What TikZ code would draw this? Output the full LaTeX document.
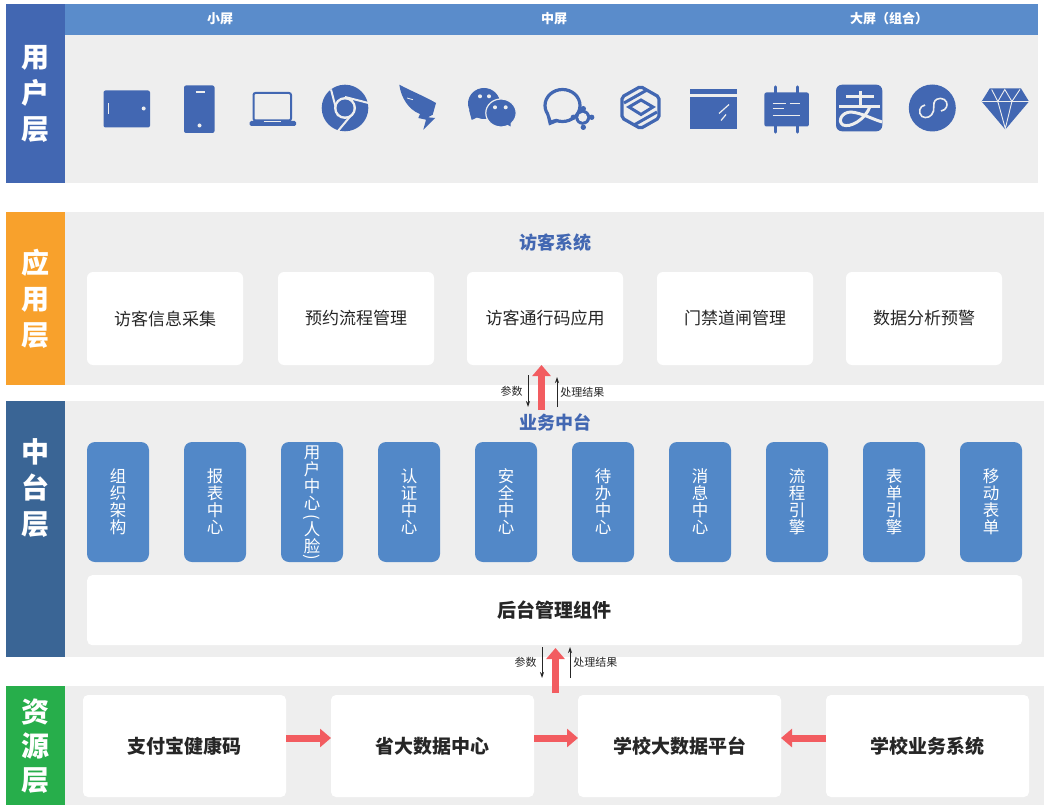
\documentclass[tikz,border=0pt]{standalone}
\usepackage{fontspec}
\setmainfont{Noto Sans CJK SC}
\usepackage{xcolor}
\usetikzlibrary{arrows.meta,positioning}
\definecolor{layerblue}{HTML}{4267B2}
\definecolor{layerorange}{HTML}{F8A12C}
\definecolor{layersteel}{HTML}{3A6595}
\definecolor{layergreen}{HTML}{27AE4B}
\definecolor{headblue}{HTML}{5A8CCB}
\definecolor{pillblue}{HTML}{5288C8}
\definecolor{panelgray}{HTML}{EEEEEE}
\definecolor{arrowred}{HTML}{F25C60}
\definecolor{inkdark}{HTML}{262626}
\newcommand{\overparen}[2]{\makebox[0pt][l]{\makebox[16.5pt]{\raisebox{#1}[0pt][0pt]{\rotatebox[origin=c]{-90}{#2}}}}}
\tikzset{
  layerBar/.style={anchor=north west, minimum width=59pt, inner sep=0pt, align=center, text=white, font=\fontsize{28}{36}\selectfont\bfseries},
  panelBox/.style={anchor=north west, fill=panelgray, minimum width=979pt, inner sep=0pt},
  headLabel/.style={text=white, inner sep=0pt, font=\fontsize{13}{15}\selectfont\bfseries},
  blueTitle/.style={text=layerblue, inner sep=0pt, font=\fontsize{18}{20}\selectfont\bfseries},
  appCard/.style={fill=white, rounded corners=6pt, outer sep=0pt, minimum width=156pt, minimum height=93pt, inner sep=0pt, text=inkdark, font=\fontsize{17}{20}\selectfont},
  compPill/.style={fill=pillblue, rounded corners=8pt, outer sep=0pt, minimum width=62pt, minimum height=120pt, inner sep=0pt, align=center, text=white, font=\fontsize{16.5}{17}\selectfont},
  resCard/.style={fill=white, rounded corners=5pt, outer sep=0pt, minimum width=203pt, minimum height=102pt, inner sep=0pt, text=inkdark, font=\fontsize{19}{22}\selectfont\bfseries},
  redArrow/.style={-{Triangle[length=11pt,width=18pt]}, line width=7pt, draw=arrowred},
  thinArrow/.style={-{Stealth[length=6pt,width=4pt]}, line width=0.8pt, draw=inkdark},
  thinLabel/.style={inner sep=3pt, text=inkdark, font=\fontsize{11}{13}\selectfont},
  iconFill/.style={fill=layerblue, draw=none},
  iconLine/.style={draw=layerblue, fill=none, line width=3.2pt},
  iconCut/.style={draw=panelgray, fill=none, line width=1.2pt}
}
\begin{document}
\begin{tikzpicture}[x=1pt,y=-1pt]
  \useasboundingbox (0,0) rectangle (1048,810);

  \node[panelBox, minimum width=973pt, minimum height=148pt] (userpanel) at (65,35) {};
  \node[anchor=north west, fill=headblue, minimum width=973pt, minimum height=31pt, inner sep=0pt] (screenhead) at (65,4) {};
  \node[panelBox, minimum height=173pt] (apppanel) at (65,212) {};
  \node[panelBox, minimum height=256pt] (midpanel) at (65,401) {};
  \node[panelBox, minimum height=119pt] (respanel) at (65,686) {};

  \node[layerBar, fill=layerblue, minimum height=179pt] (userbar) at (6,4) {用\\户\\层};
  \node[layerBar, fill=layerorange, minimum height=173pt] (appbar) at (6,212) {应\\用\\层};
  \node[layerBar, fill=layersteel, minimum height=256pt] (midbar) at (6,401) {};
  \node[layerBar, anchor=center] (midname) at (35.5,488) {中\\台\\层};
  \node[layerBar, fill=layergreen, minimum height=119pt, font=\fontsize{28}{34}\selectfont\bfseries] (resbar) at (6,686) {资\\源\\层};

  \node[headLabel] (small) at (220,19) {小屏};
  \node[headLabel] (medium) at (554,19) {中屏};
  \node[headLabel] (large) at (889,19) {大屏（组合）};

  \fill[iconFill, rounded corners=2pt] (103.5,90.5) rectangle (150,127.5);
  \draw[iconCut] (108.5,103.5) -- (108.5,114.5);
  \fill[panelgray] (143.7,108.5) circle (2);

  \fill[iconFill, rounded corners=2pt] (184,85.5) rectangle (214.5,133);
  \draw[iconCut] (195.5,92) -- (204.5,92);
  \fill[panelgray] (199.5,125.5) circle (2);

  \draw[iconLine, line width=2pt, rounded corners=2pt] (253.5,93) rectangle (291,120.5);
  \fill[iconFill, rounded corners=1.5pt] (249.5,121) rectangle (296,126);
  \draw[iconCut, line width=0.8pt] (263.5,121.5) -- (281,121.5);

  \fill[iconFill] (345,108) circle (23.3);
  \draw[iconCut, line width=2pt] (345,97) -- (368.5,103);
  \draw[iconCut, line width=2pt] (331,89.5) -- (338,116);
  \draw[iconCut, line width=2pt] (353,113) -- (338,131);
  \fill[panelgray] (345,108) circle (11);
  \fill[iconFill] (345,108) circle (8.5);

  \fill[iconFill] (399.3,84.7) .. controls (411,91) and (424,96) .. (436,103) -- (432.7,114.7) -- (428,117.3) -- (435,118) -- (423.3,129.7) -- (426,119.7) -- (418.3,118) -- (420,114) .. controls (409,110) and (401,98) .. (399.3,84.7) -- cycle;
  \draw[iconCut, line width=0.8pt] (407,98) -- (413,99.7);

  \fill[iconFill] (484,103.5) ellipse (16 and 15.5);
  \fill[iconFill] (469,110) -- (471.7,120) -- (480,116) -- cycle;
  \fill[iconFill, draw=panelgray, line width=1.2pt] (501,113) ellipse (15.2 and 14);
  \fill[iconFill] (503,122) -- (510.5,126.5) -- (511,116) -- cycle;
  \fill[panelgray] (480,96.3) circle (2) (489,96.3) circle (2) (495,107.3) circle (2) (505.7,107.3) circle (2);

  \draw[iconLine] (562.5,105.5) ellipse (17.5 and 16);
  \fill[iconFill] (546,113) -- (549,125.5) -- (560,121) -- cycle;
  \fill[panelgray] (549,113) -- (551.5,120) -- (558,118) -- cycle;
  \fill[iconFill] (582.7,117.3) circle (7.5);
  \fill[iconFill] (583.3,108.7) circle (2.7) (591.7,117.3) circle (2.7) (583.3,127.3) circle (2.7) (573.3,117.3) circle (2.7);
  \fill[panelgray] (582.7,117.3) circle (4.5);

  \draw[iconLine, rounded corners=2pt] (640.5,86.5) -- (659,97) -- (659,118) -- (640.5,128.5) -- (622,118) -- (622,97) -- cycle;
  \draw[iconLine, line width=3pt] (641,100) -- (653,107) -- (641,114.5) -- (629,107) -- cycle;
  \draw[iconLine, line width=3pt] (624,103) -- (647,90);
  \draw[iconLine, line width=3pt] (634,125) -- (657,112);

  \fill[iconFill] (690,89.5) rectangle (737,94.5);
  \fill[iconFill] (690,97.5) rectangle (737,129);
  \draw[iconCut] (729,104.5) -- (719,113.5);
  \draw[iconCut] (726,114.5) -- (721,120.5);

  \fill[iconFill, rounded corners=2pt] (764.4,92.5) rectangle (808.9,126.5);
  \draw[iconLine, line cap=round] (775.6,87) -- (775.6,132);
  \draw[iconLine, line cap=round] (797.8,87) -- (797.8,132);
  \draw[iconCut] (772.5,103.5) -- (785.7,103.5);
  \draw[iconCut] (789.7,103.5) -- (799.8,103.5);
  \draw[iconCut] (772.5,108.5) -- (783.7,108.5);
  \draw[iconCut] (772.5,115.5) -- (799.8,115.5);

  \fill[iconFill, rounded corners=6pt] (836,84.7) rectangle (882.3,131.3);
  \draw[iconCut, line width=3pt] (845.7,96.3) -- (874.3,96.3);
  \draw[iconCut, line width=3pt] (839,106.3) -- (880,106.3);
  \draw[iconCut, line width=3pt] (860,90.7) -- (860,106.3);
  \draw[iconCut, line width=3pt] (870,106.5) .. controls (865,120) and (850,128) .. (843,125) .. controls (837,121) and (842,112) .. (851,112) .. controls (862,113) and (872,119) .. (882,122);

  \fill[iconFill] (932.3,108) circle (23.5);
  \draw[iconCut, line width=1.6pt] (941,111) .. controls (946,110) and (948,106) .. (946.5,102) .. controls (945,98) and (936,96) .. (934,103) -- (933.5,111) .. controls (932,117) and (926,119) .. (922,116.5) .. controls (918,113) and (919,106) .. (925,105);

  \fill[iconFill] (989.7,88.5) -- (1021,88.5) -- (1029,101.5) -- (1005.3,129.5) -- (981.6,101.5) -- cycle;
  \draw[iconCut, line width=0.9pt] (981.6,101.5) -- (1029,101.5);
  \draw[iconCut, line width=0.9pt] (991.7,89.5) -- (997.8,101.5) -- (1004.8,89.5) -- (1011.9,101.5) -- (1019.9,89.5);
  \draw[iconCut, line width=0.9pt] (997.8,101.5) -- (1005.3,128.5) -- (1011.9,101.5);

  \node[blueTitle] (visitsys) at (555,243) {访客系统};
  \node[appCard, anchor=north west] (collect) at (87,272) {访客信息采集};
  \node[appCard, right=35pt of collect] (booking) {预约流程管理};
  \node[appCard, right=33pt of booking] (passcode) {访客通行码应用};
  \node[appCard, right=34pt of passcode] (gate) {门禁道闸管理};
  \node[appCard, right=33pt of gate] (warning) {数据分析预警};

  \node[blueTitle] (bizmid) at (555,422) {业务中台};
  \node[compPill, anchor=north west] (org) at (87,442) {组\\织\\架\\构};
  \node[compPill, right=35pt of org] (report) {报\\表\\中\\心};
  \node[compPill, right=35pt of report] (person) {用\\户\\中\\心\\[9pt]\overparen{13pt}{(}人\\\overparen{-10pt}{)}脸\rule[-6.5pt]{0pt}{0pt}};
  \node[compPill, right=35pt of person] (auth) {认\\证\\中\\心};
  \node[compPill, right=35pt of auth] (safety) {安\\全\\中\\心};
  \node[compPill, right=35pt of safety] (todo) {待\\办\\中\\心};
  \node[compPill, right=35pt of todo] (message) {消\\息\\中\\心};
  \node[compPill, right=35pt of message] (flow) {流\\程\\引\\擎};
  \node[compPill, right=35pt of flow] (form) {表\\单\\引\\擎};
  \node[compPill, right=35pt of form] (mobile) {移\\动\\表\\单};
  \node[fill=white, rounded corners=5pt, anchor=north west, minimum width=935pt, minimum height=70pt, inner sep=0pt, text=inkdark, font=\fontsize{19}{22}\selectfont\bfseries] (backend) at (87,575) {后台管理组件};

  \node[resCard, anchor=north west] (healthcode) at (83,695) {支付宝健康码};
  \node[resCard, right=45pt of healthcode] (province) {省大数据中心};
  \node[resCard, right=44pt of province] (platform) {学校大数据平台};
  \node[resCard, right=45pt of platform] (bizsys) {学校业务系统};

  \coordinate (upperfoot) at (541.5,410);
  \coordinate (paramtop) at (528,375);
  \coordinate (parambot) at (528,407);
  \coordinate (resulttop) at (557,377);
  \coordinate (resultbot) at (557,407);
  \coordinate (lowerfoot) at (555.5,693);
  \coordinate (lowertip) at (555.5,648);
  \coordinate (lowparamtop) at (542,647);
  \coordinate (lowparambot) at (542,678);
  \coordinate (lowresulttop) at (570,647);
  \coordinate (lowresultbot) at (570,678);

  \draw[redArrow] (upperfoot) -- (upperfoot |- passcode.south);
  \draw[thinArrow] (paramtop) -- (parambot) node[midway, left, thinLabel, xshift=-2pt] (upperparam) {参数};
  \draw[thinArrow] (resultbot) -- (resulttop) node[midway, right, thinLabel] (upperresult) {处理结果};

  \draw[redArrow] (lowerfoot) -- (lowertip);
  \draw[thinArrow] (lowparamtop) -- (lowparambot) node[midway, left, thinLabel, xshift=-2pt] (lowerparam) {参数};
  \draw[thinArrow] (lowresultbot) -- (lowresulttop) node[midway, right, thinLabel] (lowerresult) {处理结果};

  \draw[redArrow] ([yshift=8pt]healthcode.east) -- ([yshift=8pt]province.west);
  \draw[redArrow] ([yshift=8pt]province.east) -- ([yshift=8pt]platform.west);
  \draw[redArrow] ([yshift=8pt]bizsys.west) -- ([yshift=8pt]platform.east);
\end{tikzpicture}
\end{document}
